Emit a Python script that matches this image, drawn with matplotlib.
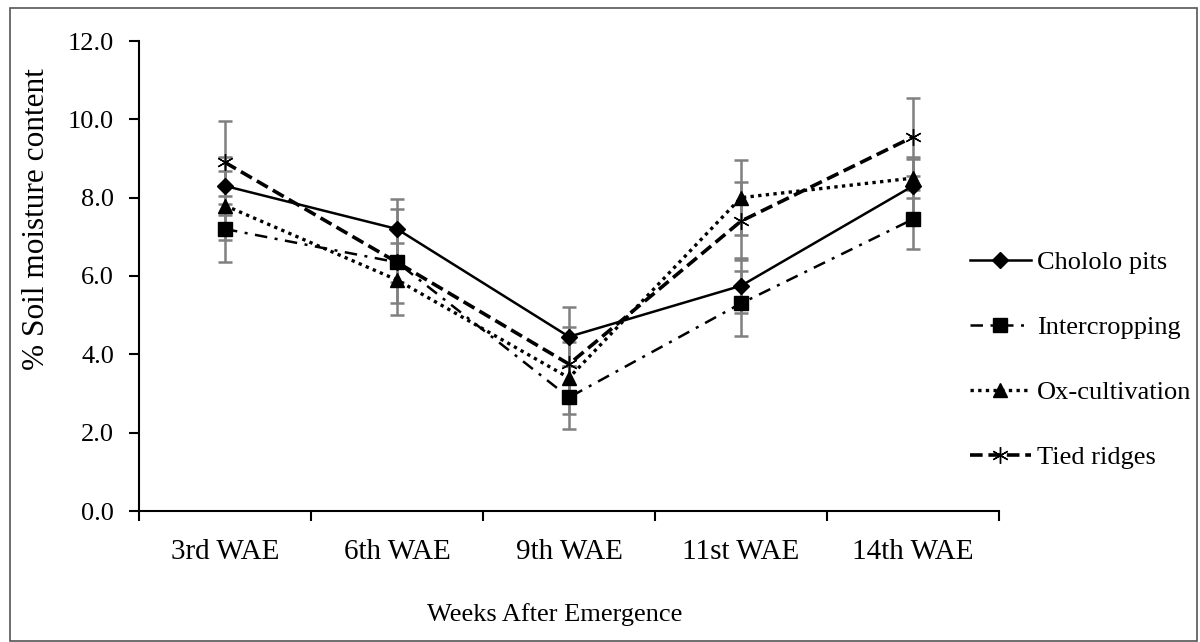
import matplotlib
matplotlib.use("Agg")
import matplotlib.pyplot as plt
from matplotlib.patches import Rectangle
import numpy as np

categories = ["3rd WAE", "6th WAE", "9th WAE", "11st WAE", "14th WAE"]
series_names = ["Chololo pits", "Intercropping", "Ox-cultivation", "Tied ridges"]
chololo = [8.3, 7.2, 4.45, 5.75, 8.3]
intercropping = [7.2, 6.35, 2.9, 5.3, 7.45]
ox_cultivation = [7.8, 5.9, 3.4, 8.0, 8.5]
tied_ridges = [8.9, 6.35, 3.75, 7.4, 9.55]
chololo_err = [0.75, 0.76, 0.75, 0.7, 0.73]
intercropping_err = [0.85, 0.5, 0.8, 0.83, 0.75]
ox_cultivation_err = [0.87, 0.6, 0.92, 0.96, 0.5]
tied_ridges_err = [1.06, 1.35, 0.96, 1.0, 1.0]
y_ticks = [0.0, 2.0, 4.0, 6.0, 8.0, 10.0, 12.0]

plt.rcParams['font.family'] = ['Liberation Serif', 'DejaVu Serif']

fig = plt.figure(figsize=(12, 6.42), dpi=100)
ax = fig.add_axes([139/1200, 1-511/642, (999-139)/1200, (511-41)/642])

x = np.arange(len(categories))
styles = [
    dict(values=chololo, err=chololo_err, marker='D', ms=8.5, ls='-', lw=1.8),
    dict(values=intercropping, err=intercropping_err, marker='s', ms=9.5, ls=(0, (5, 3, 1.2, 3)), lw=1.8),
    dict(values=ox_cultivation, err=ox_cultivation_err, marker='^', ms=9.5, ls=(0, (1, 1.3)), lw=2.4),
    dict(values=tied_ridges, err=tied_ridges_err, marker=(6, 2, 0), ms=12, ls=(0, (3.5, 1.6)), lw=2.6),
]

handles = []
for name, st in zip(series_names, styles):
    ax.errorbar(x, st['values'], yerr=st['err'], fmt='none', ecolor='#808080',
                elinewidth=1.8, capsize=5, capthick=1.8, zorder=2)
for name, st in zip(series_names, styles):
    h, = ax.plot(x, st['values'], color='black', linestyle=st['ls'], linewidth=st['lw'],
                 marker=st['marker'], markersize=st['ms'], markerfacecolor='black',
                 markeredgecolor='black', markeredgewidth=1, label=name, zorder=3,
                 dash_capstyle='butt')
    handles.append(h)

ax.set_xlim(-0.5, len(categories) - 0.5)
ax.set_ylim(0, 12)
ax.set_yticks(y_ticks)
ax.set_yticklabels([f"{v:.1f}" for v in y_ticks])
ax.set_xticks(np.arange(len(categories) + 1) - 0.5)
ax.set_xticklabels([])
ax.set_xticks(x, minor=True)
ax.set_xticklabels(categories, minor=True)
ax.tick_params(axis='x', which='minor', length=0, pad=20, labelsize=21)
ax.tick_params(axis='x', which='major', direction='out', length=7, width=1.5)
ax.tick_params(axis='y', direction='out', length=7, width=1.5, pad=11, labelsize=19)
for side in ['top', 'right']:
    ax.spines[side].set_visible(False)
for side in ['left', 'bottom']:
    ax.spines[side].set_linewidth(1.5)

fig.text(555/1200, 1-615/642, "Weeks After Emergence", fontsize=19, ha='center', va='center')
fig.text(37/1200, 1-219/642, "% Soil moisture content", fontsize=22.5, ha='center',
         va='center', rotation=90)

leg = fig.legend(handles=handles, loc='center left', bbox_to_anchor=(970/1200, 1-360/642),
                 frameon=False, fontsize=19, handlelength=2.3, handletextpad=0.25,
                 labelspacing=1.57, borderpad=0, borderaxespad=0)

fig.patches.append(Rectangle((10/1200, 1/642), (1197-10)/1200, (633)/642,
                             transform=fig.transFigure, fill=False,
                             edgecolor='#555555', linewidth=1.2))

fig.savefig("out.png", dpi=100)
